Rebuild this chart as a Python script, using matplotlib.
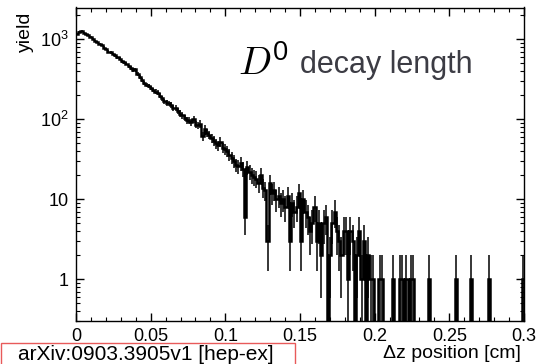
import numpy as np
import matplotlib
matplotlib.use("Agg")
from matplotlib import pyplot as plt
from matplotlib.patches import Rectangle
from matplotlib.ticker import FixedLocator, MultipleLocator, LogLocator, NullFormatter


# histogram: 200 bins from 0 to 0.3 cm, counts
x_min, x_max, n_bins = 0.0, 0.3, 200
counts = [
    1175, 1230, 1262, 1215, 1160, 1120, 1065, 1010, 960, 935,
    880, 850, 790, 760, 700, 690, 655, 630, 600, 575,
    530, 515, 498, 462, 440, 412, 420, 372, 338, 312,
    285, 268, 262, 245, 232, 222, 215, 198, 182, 168,
    160, 158, 150, 138, 140, 128, 118, 112, 104, 98,
    96, 92, 100, 86, 84, 88, 62, 76, 68, 64,
    58, 54, 50, 47, 52, 44, 42, 40, 36, 33,
    30, 27, 26, 28, 24, 6, 25, 22, 20, 19,
    18, 16, 20, 14, 13, 3, 16, 12, 13, 10,
    11, 9, 10, 8, 11, 3, 9, 7, 8, 12,
    3, 10, 7, 6, 4, 5, 8, 3, 5, 2,
    5, 6, 0, 2, 5, 7, 4, 3, 2, 4,
    4, 1, 4, 3, 0, 2, 4, 1, 3, 0,
    2, 1, 1, 0, 0, 1, 1, 0, 0, 0,
    0, 1, 0, 0, 1, 1, 0, 1, 0, 1,
    1, 0, 0, 0, 0, 0, 0, 1, 0, 0,
    0, 0, 0, 0, 0, 0, 0, 0, 0, 1,
    0, 0, 0, 0, 0, 0, 1, 0, 0, 0,
    0, 0, 0, 0, 1, 0, 0, 0, 0, 0,
    0, 0, 0, 0, 0, 0, 0, 0, 0, 1,
]

x_ticks = [0, 0.05, 0.1, 0.15, 0.2, 0.25, 0.3]
x_ticklabels = ["0", "0.05", "0.1", "0.15", "0.2", "0.25", "0.3"]
y_ticks = [1, 10, 100, 1000]
y_ticklabels = ["1", "10", "$10^{2}$", "$10^{3}$"]

plt.rcParams["font.family"] = ["Liberation Sans", "DejaVu Sans"]
plt.rcParams["mathtext.fontset"] = "custom"
plt.rcParams["mathtext.rm"] = "Liberation Sans"
plt.rcParams["mathtext.it"] = "Liberation Sans:italic"
plt.rcParams["mathtext.default"] = "regular"

counts = np.array(counts, dtype=float)
edges = np.linspace(x_min, x_max, n_bins + 1)
centers = 0.5 * (edges[:-1] + edges[1:])

fig = plt.figure(figsize=(5.39, 3.64), dpi=100)
ax = fig.add_axes([76 / 539, 1 - 321 / 364, 448 / 539, 313.5 / 364])

# empty bins drop below the frame
floor = 1e-2
ax.stairs(np.where(counts > 0, counts, floor), edges, baseline=None,
          color="k", lw=1.8)

filled = counts > 0
n = counts[filled]
err = np.sqrt(n)
low = np.where(n - err > 0, n - err, floor)
ax.errorbar(centers[filled], n, yerr=[n - low, err], fmt="none",
            ecolor="k", elinewidth=1.1)

ax.set_yscale("log")
ax.set_xlim(0, 0.3)
ax.set_ylim(0.3, 2500)

ax.xaxis.set_major_locator(FixedLocator(x_ticks))
ax.set_xticklabels(x_ticklabels)
ax.xaxis.set_minor_locator(MultipleLocator(0.01))
ax.yaxis.set_major_locator(FixedLocator(y_ticks))
ax.set_yticklabels(y_ticklabels)
ax.yaxis.set_minor_locator(LogLocator(base=10, subs=np.arange(2, 10)))
ax.yaxis.set_minor_formatter(NullFormatter())

ax.tick_params(which="both", direction="in", top=True, right=True,
               labelsize=13, color="k")
ax.tick_params(which="major", length=6, width=1)
ax.tick_params(which="minor", length=3, width=0.8)
ax.tick_params(axis="x", pad=5)
ax.tick_params(axis="y", pad=5)
for s in ax.spines.values():
    s.set_linewidth(1.0)

fig.text(25.5 / 539, 1 - 12 / 364, "yield", rotation=90, ha="center",
         va="top", fontsize=14)
fig.text(521 / 539, 1 - 358 / 364, "\u0394z position [cm]", ha="right",
         va="baseline", fontsize=14)

fig.text(238 / 539, 1 - 75 / 364, r"$\mathit{D}^{0}$", math_fontfamily="cm",
         fontsize=28, ha="left", va="baseline")
fig.text(300 / 539, 1 - 73 / 364, "decay length", fontsize=22,
         color="#3c3c44", ha="left", va="baseline")

box = Rectangle((1 / 539, -0.05), 294 / 539, 0.05 + 21 / 364,
                transform=fig.transFigure, fill=False,
                edgecolor="#e85a5a", lw=1.0, clip_on=False)
fig.add_artist(box)
fig.text(18 / 539, 1 - 359.5 / 364, "arXiv:0903.3905v1 [hep-ex]",
         fontsize=15, ha="left", va="baseline")

fig.savefig("out.png", dpi=100)
